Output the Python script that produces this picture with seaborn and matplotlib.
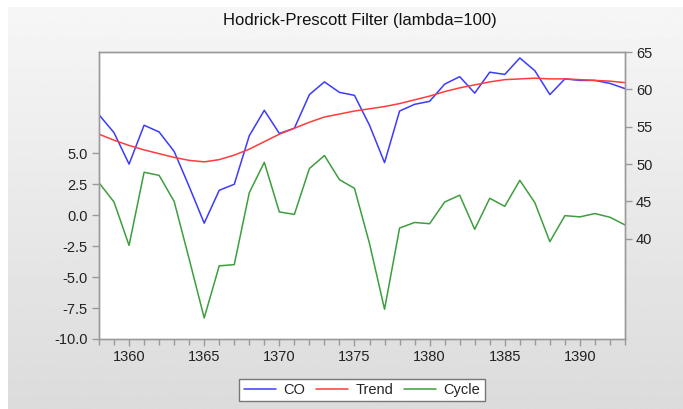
import numpy as np
import pandas as pd
import matplotlib
matplotlib.use("Agg")
import matplotlib.pyplot as plt
from matplotlib.lines import Line2D
import seaborn as sns

years = list(range(1358, 1394))

co = [56.6, 54.2, 50.0, 55.2, 54.3, 51.7, 47.0, 42.1, 46.5, 47.3,
      53.8, 57.2, 54.1, 54.8, 59.3, 61.0, 59.6, 59.2, 55.2, 50.2,
      57.1, 58.0, 58.4, 60.7, 61.7, 59.5, 62.3, 62.0, 64.2, 62.5,
      59.3, 61.4, 61.2, 61.2, 60.8, 60.1]

trend = [54.0, 53.2, 52.5, 51.9, 51.4, 50.9, 50.5, 50.3, 50.6, 51.2,
         52.0, 53.0, 54.0, 54.8, 55.6, 56.3, 56.7, 57.1, 57.4, 57.7,
         58.1, 58.6, 59.1, 59.7, 60.2, 60.6, 61.0, 61.3, 61.4, 61.5,
         61.4, 61.4, 61.3, 61.2, 61.1, 60.9]

cycle = [2.6, 1.05, -2.45, 3.45, 3.2, 1.1, -3.55, -8.3, -4.1, -4.0,
         1.8, 4.25, 0.25, 0.05, 3.75, 4.8, 2.85, 2.15, -2.3, -7.6,
         -1.05, -0.6, -0.7, 1.05, 1.6, -1.15, 1.35, 0.7, 2.8, 1.0,
         -2.15, -0.05, -0.15, 0.12, -0.18, -0.8]

left_ticks = [5.0, 2.5, 0.0, -2.5, -5.0, -7.5, -10.0]
right_ticks = [40, 45, 50, 55, 60, 65]

BLUE = "#3b3bff"
RED = "#ff3b3b"
GREEN = "#3d9e3d"
GRAY = "#9a9a9a"

sns.set_style("white")
plt.rcParams["font.family"] = ["Liberation Sans", "DejaVu Sans"]

df = pd.DataFrame({"year": years, "CO": co, "Trend": trend, "Cycle": cycle})

fig = plt.figure(figsize=(6.83, 4.09), dpi=100)
fig.patch.set_facecolor("white")

# gradient background panel
bg = fig.add_axes([8 / 683, 0, 1 - 8 / 683, 1 - 7 / 409])
grad = np.linspace(0.965, 0.86, 256).reshape(-1, 1)
bg.imshow(grad, aspect="auto", cmap="gray", vmin=0, vmax=1, extent=[0, 1, 0, 1])
bg.set_axis_off()

ax = fig.add_axes([99 / 683, 1 - 339 / 409, (625 - 99) / 683, (339 - 52) / 409])
ax.set_facecolor("white")
ax2 = ax.twinx()

sns.lineplot(data=df, x="year", y="Cycle", ax=ax, color=GREEN, linewidth=1.1)
sns.lineplot(data=df, x="year", y="CO", ax=ax2, color=BLUE, linewidth=1.1)
sns.lineplot(data=df, x="year", y="Trend", ax=ax2, color=RED, linewidth=1.1)

ax.set_xlim(1358, 1393)
ax.set_ylim(-10.0, 13.15)
ax2.set_ylim(26.6, 65.0)

ax.set_xticks(range(1360, 1391, 5))
ax.set_xticks(years, minor=True)
ax.set_yticks(left_ticks)
ax.set_yticklabels([f"{v:.1f}" for v in left_ticks])
ax2.set_yticks(right_ticks)

for a in (ax, ax2):
    a.set_xlabel("")
    a.set_ylabel("")
    for s in a.spines.values():
        s.set_color(GRAY)
        s.set_linewidth(1.0)
    a.tick_params(axis="both", which="major", direction="out", length=5,
                  width=1.0, color=GRAY, labelsize=10.5, labelcolor="#222222", pad=3)
    a.tick_params(axis="x", which="minor", direction="out", length=4,
                  width=1.0, color=GRAY)

ax.tick_params(axis="y", left=True, right=False)
ax.tick_params(axis="x", bottom=True, which="both")
ax2.tick_params(axis="y", right=True, left=False)

fig.text(360 / 683, 1 - 21 / 409, "Hodrick-Prescott Filter (lambda=100)",
         ha="center", va="center", fontsize=12, color="#111111")

handles = [Line2D([0], [0], color=BLUE, lw=1.1),
           Line2D([0], [0], color=RED, lw=1.1),
           Line2D([0], [0], color=GREEN, lw=1.1)]
leg = fig.legend(handles, ["CO", "Trend", "Cycle"], loc="center",
                 bbox_to_anchor=(362 / 683, 1 - 390 / 409), ncol=3,
                 fontsize=10.5, frameon=True, fancybox=False, handlelength=2.2,
                 handletextpad=0.5, columnspacing=0.75, borderpad=0.3)
leg.get_frame().set_edgecolor("#777777")
leg.get_frame().set_linewidth(1.0)
leg.get_frame().set_facecolor("white")
leg.get_frame().set_alpha(1.0)

fig.savefig("out.png", dpi=100)
